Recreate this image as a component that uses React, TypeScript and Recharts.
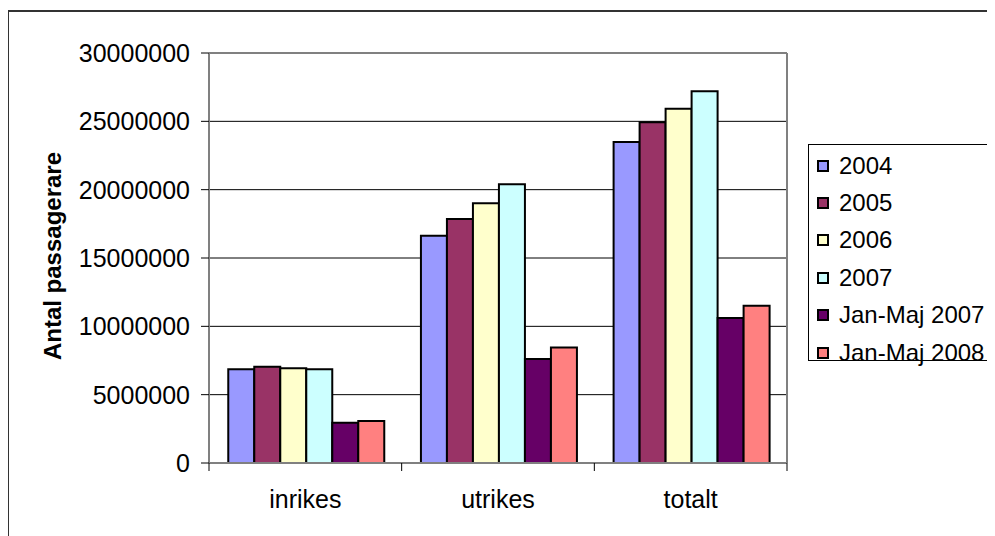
import React from 'react';
import { BarChart, Bar, XAxis, YAxis, CartesianGrid, Legend, ReferenceLine } from 'recharts';

const categories = ['inrikes', 'utrikes', 'totalt'];

const y2004 = [6860000, 16630000, 23480000];
const y2005 = [7050000, 17850000, 24940000];
const y2006 = [6930000, 19000000, 25920000];
const y2007 = [6860000, 20390000, 27210000];
const janMaj2007 = [2950000, 7610000, 10610000];
const janMaj2008 = [3070000, 8460000, 11510000];

const seriesNames = ['2004', '2005', '2006', '2007', 'Jan-Maj 2007', 'Jan-Maj 2008'];
const seriesValues = [y2004, y2005, y2006, y2007, janMaj2007, janMaj2008];
const seriesColors = ['#9999FF', '#993366', '#FFFFCC', '#CCFFFF', '#660066', '#FF8080'];

const yTicks = [0, 5000000, 10000000, 15000000, 20000000, 25000000, 30000000];

const data = categories.map((name, i) => {
  const row: any = { name };
  seriesNames.forEach((s, j) => {
    row[s] = seriesValues[j][i];
  });
  return row;
});

const FONT = "Arial, 'Liberation Sans', sans-serif";
const X_TICK_SIZE = 8;
const X_TICK_MARGIN = 19;

// category labels, with the tick marks drawn on the category boundaries
const CategoryTick = (props: any) => {
  const { x, y, payload, index } = props;
  const half = payload && payload.offset ? payload.offset : 96;
  const axisY = y - X_TICK_SIZE - X_TICK_MARGIN;
  return (
    <g>
      <line x1={x - half} x2={x - half} y1={axisY} y2={axisY + X_TICK_SIZE} stroke="#000" />
      {index === categories.length - 1 && (
        <line x1={x + half} x2={x + half} y1={axisY} y2={axisY + X_TICK_SIZE} stroke="#000" />
      )}
      <text x={x} y={y} dy="0.71em" textAnchor="middle" fontSize={25} fill="#000">
        {payload.value}
      </text>
    </g>
  );
};

const renderLegend = (props: any) => {
  const { payload } = props;
  return (
    <div
      style={{
        border: '1px solid #000',
        height: 217,
        boxSizing: 'border-box',
        paddingTop: 2,
        background: '#fff',
      }}
    >
      {(payload || []).map((entry: any) => (
        <div key={entry.value} style={{ display: 'flex', alignItems: 'center', height: 37.4 }}>
          <span
            style={{
              width: 12,
              height: 12,
              flex: 'none',
              boxSizing: 'border-box',
              border: '2px solid #000',
              background: entry.color,
              marginLeft: 8,
              marginRight: 10,
              display: 'inline-block',
            }}
          />
          <span style={{ fontSize: 24, color: '#000', whiteSpace: 'nowrap' }}>{entry.value}</span>
        </div>
      ))}
    </div>
  );
};

export default function App() {
  return (
    <div style={{ position: 'relative', width: 987, height: 528, fontFamily: FONT }}>
      <style>{'html,body{overflow:hidden}'}</style>
      <div
        style={{
          position: 'absolute',
          left: -1,
          top: 2,
          width: 1100,
          height: 600,
          borderLeft: '2px solid #333',
          borderTop: '2px solid #333',
        }}
      />
      <div
        style={{
          position: 'absolute',
          left: 45,
          top: 248,
          transform: 'translate(-50%, -50%) rotate(-90deg)',
          fontSize: 24,
          fontWeight: 'bold',
          whiteSpace: 'nowrap',
          lineHeight: 1,
          color: '#000',
        }}
      >
        Antal passagerare
      </div>
      <BarChart
        width={987}
        height={520}
        data={data}
        margin={{ top: 45, right: 207, bottom: 20, left: 0 }}
        barCategoryGap="10%"
        barGap={0}
        style={{ overflow: 'visible' }}
      >
        <CartesianGrid vertical={false} stroke="#000" />
        <XAxis
          dataKey="name"
          height={45}
          interval={0}
          tickLine={false}
          tickSize={X_TICK_SIZE}
          tickMargin={X_TICK_MARGIN}
          axisLine={{ stroke: '#808080', strokeWidth: 2 }}
          tick={<CategoryTick />}
        />
        <YAxis
          width={201}
          domain={[0, 30000000]}
          ticks={yTicks}
          interval={0}
          tickSize={8}
          tickMargin={11}
          tickFormatter={(v: number) => String(v)}
          axisLine={{ stroke: '#808080', strokeWidth: 2 }}
          tickLine={{ stroke: '#000' }}
          tick={{ fontSize: 25, fill: '#000' }}
        />
        <YAxis
          yAxisId="frame"
          orientation="right"
          width={1}
          domain={[0, 30000000]}
          tick={false}
          tickLine={false}
          axisLine={{ stroke: '#808080', strokeWidth: 2 }}
        />
        <ReferenceLine y={30000000} stroke="#808080" strokeWidth={2} />
        <Legend
          layout="horizontal"
          verticalAlign="middle"
          align="center"
          width={230}
          content={renderLegend}
          wrapperStyle={{ left: 800, top: 136, width: 230 }}
        />
        {seriesNames.map((s, i) => (
          <Bar
            key={s}
            dataKey={s}
            name={s}
            fill={seriesColors[i]}
            stroke="#000"
            strokeWidth={2}
            isAnimationActive={false}
          />
        ))}
      </BarChart>
    </div>
  );
}
